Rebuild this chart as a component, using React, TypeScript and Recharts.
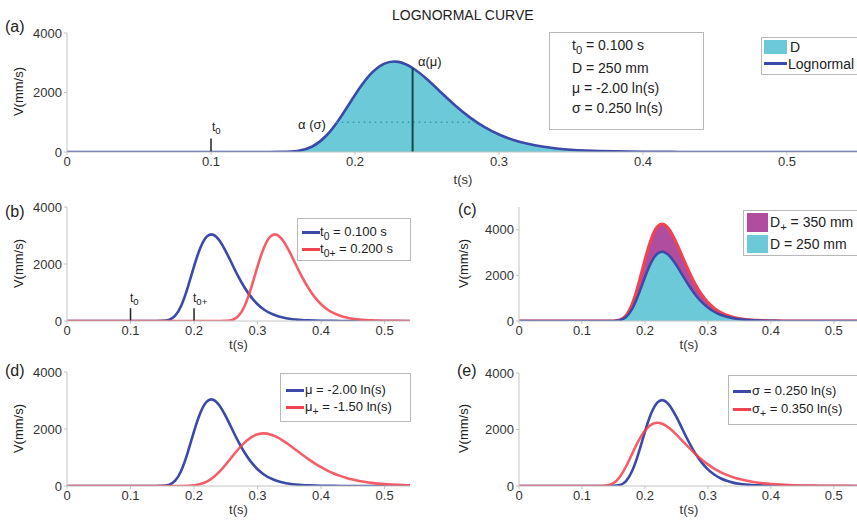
import React from "react";
import { ComposedChart, Line, Area, XAxis, YAxis, ReferenceLine } from "recharts";

// time axis, 10 ms steps
const T = [
  0, 0.01, 0.02, 0.03, 0.04, 0.05, 0.06, 0.07, 0.08, 0.09, 0.1, 0.11, 0.12, 0.13, 0.14, 0.15, 0.16, 0.17, 0.18,
  0.19, 0.2, 0.21, 0.22, 0.23, 0.24, 0.25, 0.26, 0.27, 0.28, 0.29, 0.3, 0.31, 0.32, 0.33, 0.34, 0.35, 0.36, 0.37,
  0.38, 0.39, 0.4, 0.41, 0.42, 0.43, 0.44, 0.45, 0.46, 0.47, 0.48, 0.49, 0.5, 0.51, 0.52, 0.53, 0.54, 0.55,
];

// t0 = 0.100 s, D = 250 mm, mu = -2.00, sigma = 0.250
const BASE = [
  0, 0, 0, 0, 0, 0, 0, 0, 0, 0, 0, 0, 0, 0, 0, 3, 33, 176, 546, 1171, 1918, 2572, 2961, 3029, 2823, 2444, 1993,
  1548, 1156, 836, 589, 405, 274, 183, 120, 78, 51, 32, 21, 13, 8, 5, 3, 2, 1, 0, 0, 0, 0, 0, 0, 0, 0, 0, 0, 0,
];
// t0+ = 0.200 s
const T0_PLUS = [
  0, 0, 0, 0, 0, 0, 0, 0, 0, 0, 0, 0, 0, 0, 0, 0, 0, 0, 0, 0, 0, 0, 0, 0, 0, 3, 33, 176, 546, 1171, 1918, 2572,
  2961, 3029, 2823, 2444, 1993, 1548, 1156, 836, 589, 405, 274, 183, 120, 78, 51, 32, 21, 13, 8, 5, 3, 2, 1, 0,
];
// D+ = 350 mm
const D_PLUS = [
  0, 0, 0, 0, 0, 0, 0, 0, 0, 0, 0, 0, 0, 0, 0, 4, 46, 246, 764, 1639, 2685, 3601, 4145, 4241, 3952, 3422, 2790,
  2167, 1618, 1170, 825, 567, 384, 256, 168, 109, 71, 45, 29, 18, 11, 7, 4, 3, 1, 0, 0, 0, 0, 0, 0, 0, 0, 0, 0, 0,
];
// mu+ = -1.50
const MU_PLUS = [
  0, 0, 0, 0, 0, 0, 0, 0, 0, 0, 0, 0, 0, 0, 0, 0, 0, 0, 1, 6, 23, 66, 153, 297, 501, 753, 1029, 1298, 1532, 1708,
  1813, 1845, 1810, 1722, 1593, 1439, 1273, 1105, 944, 794, 660, 542, 440, 355, 284, 225, 178, 139, 109, 84, 65,
  50, 39, 30, 23, 17,
];
// sigma+ = 0.350
const SIGMA_PLUS = [
  0, 0, 0, 0, 0, 0, 0, 0, 0, 0, 0, 0, 0, 1, 17, 100, 319, 690, 1153, 1605, 1961, 2174, 2239, 2178, 2026, 1819,
  1588, 1356, 1136, 938, 764, 617, 494, 393, 311, 245, 192, 151, 118, 92, 72, 56, 43, 34, 26, 20, 16, 12, 9, 7, 5,
  4, 3, 2, 2, 1,
];

const X_TICKS = [0, 0.1, 0.2, 0.3, 0.4, 0.5];
const Y_TICKS = [0, 2000, 4000];

// annotations of panel (a)
const T0 = 0.1;
const T0_P = 0.2;
const T0_MARK = 450;
const ALPHA_MU_T = 0.24;
const ALPHA_MU_V = 2823;
const ALPHA_SIGMA_V = 1000;
const ALPHA_SIGMA_SPAN = [0.187, 0.284];

const rows = T.map((t, i) => ({
  t,
  base: BASE[i],
  t0p: T0_PLUS[i],
  dp: D_PLUS[i],
  mup: MU_PLUS[i],
  sigp: SIGMA_PLUS[i],
}));

const BLUE = "#3b4aa8";
const RED = "#f2424f";
const CYAN = "#6ccad8";
const PURPLE = "#b04d9f";
const AXIS = "#c4c4c4";
const INK = "#333";
const FONT = "'Liberation Sans', Arial, sans-serif";
const CURVE = "natural";

type Rect = { x: number; y: number; w: number; h: number };

function chartBox(r: Rect, xMax: number, yMax: number, labelGap: number, children: React.ReactNode[]) {
  const tick = { fontSize: 13, fill: INK, fontFamily: FONT };
  return (
    <div style={{ position: "absolute", left: r.x - 60, top: r.y - 10 }}>
      <ComposedChart width={r.w + 70} height={r.h + 56} data={rows} margin={{ top: 10, right: 10, left: 0, bottom: 0 }}>
        <XAxis
          dataKey="t"
          type="number"
          domain={[0, xMax]}
          ticks={X_TICKS}
          allowDataOverflow
          height={46}
          tick={tick}
          tickSize={3}
          stroke={AXIS}
          interval={0}
          label={{
            value: "t(s)",
            position: "insideBottom",
            offset: 46 - labelGap,
            fontSize: 13,
            fill: INK,
            fontFamily: FONT,
          }}
        />
        <YAxis
          type="number"
          domain={[0, yMax]}
          ticks={Y_TICKS}
          allowDataOverflow
          width={60}
          tick={tick}
          tickSize={3}
          stroke={AXIS}
          interval={0}
        />
        {children}
      </ComposedChart>
    </div>
  );
}

function Txt({ x, y, size = 13, children, style }: any) {
  return (
    <div
      style={{
        position: "absolute",
        left: x,
        top: y,
        fontSize: size,
        lineHeight: 1,
        whiteSpace: "nowrap",
        color: "#222",
        fontFamily: FONT,
        ...style,
      }}
    >
      {children}
    </div>
  );
}

const Sub = ({ children }: any) => (
  <span style={{ fontSize: "0.8em", position: "relative", top: "0.35em" }}>{children}</span>
);

function YLabel({ x, y }: { x: number; y: number }) {
  return (
    <Txt x={x - 30} y={y - 7} size={13} style={{ width: 60, textAlign: "center", transform: "rotate(-90deg)" }}>
      V(mm/s)
    </Txt>
  );
}

function Box({ x, y, w, h }: Rect) {
  return (
    <div
      style={{
        position: "absolute",
        left: x,
        top: y,
        width: w,
        height: h,
        border: "1px solid #b8b8b8",
        background: "#fff",
        boxSizing: "border-box",
      }}
    />
  );
}

function LineKey({ x, y, color }: { x: number; y: number; color: string }) {
  return <div style={{ position: "absolute", left: x, top: y - 1.5, width: 18, height: 3, background: color }} />;
}

function Swatch({ x, y, w, h, color }: any) {
  return <div style={{ position: "absolute", left: x, top: y, width: w, height: h, background: color }} />;
}

const marker = (x: number) => (
  <ReferenceLine
    key={"m" + x}
    segment={[
      { x, y: 0 },
      { x, y: T0_MARK },
    ]}
    stroke="#222"
    strokeWidth={1.5}
  />
);

const line = (key: string, dataKey: string, color: string, opacity = 1) => (
  <Line
    key={key}
    type={CURVE}
    dataKey={dataKey}
    stroke={color}
    strokeOpacity={opacity}
    strokeWidth={2.6}
    dot={false}
    activeDot={false}
    isAnimationActive={false}
  />
);

export default function App() {
  const A: Rect = { x: 67, y: 33, w: 792, h: 119 };
  const B: Rect = { x: 67, y: 207, w: 343, h: 114 };
  const C: Rect = { x: 519, y: 207, w: 340, h: 114 };
  const D: Rect = { x: 67, y: 372, w: 343, h: 114 };
  const E: Rect = { x: 519, y: 373, w: 340, h: 113 };

  return (
    <div
      style={{
        position: "absolute",
        left: 0,
        top: 0,
        width: 857,
        height: 522,
        overflow: "hidden",
        background: "#fff",
        fontFamily: FONT,
      }}
    >
      {chartBox(A, 0.55, 4000, 32, [
        <Area
          key="a"
          type={CURVE}
          dataKey="base"
          fill={CYAN}
          fillOpacity={1}
          stroke={BLUE}
          strokeWidth={2.6}
          dot={false}
          activeDot={false}
          isAnimationActive={false}
        />,
        <ReferenceLine
          key="sig"
          segment={[
            { x: ALPHA_SIGMA_SPAN[0], y: ALPHA_SIGMA_V },
            { x: ALPHA_SIGMA_SPAN[1], y: ALPHA_SIGMA_V },
          ]}
          stroke="#2f9aa6"
          strokeWidth={1.5}
          strokeDasharray="1.5 4"
        />,
        <ReferenceLine
          key="mu"
          segment={[
            { x: ALPHA_MU_T, y: 0 },
            { x: ALPHA_MU_T, y: ALPHA_MU_V },
          ]}
          stroke="#0f4a45"
          strokeWidth={2}
        />,
        marker(T0),
      ])}

      {chartBox(B, 0.54, 4000, 28, [line("b1", "base", BLUE), line("b2", "t0p", RED, 0.85), marker(T0), marker(T0_P)])}

      {chartBox(C, 0.54, 5000, 28, [
        <Area key="c1" type={CURVE} dataKey="dp" fill={PURPLE} fillOpacity={1} stroke={RED} strokeWidth={3} dot={false} activeDot={false} isAnimationActive={false} />,
        <Area key="c2" type={CURVE} dataKey="base" fill={CYAN} fillOpacity={1} stroke={BLUE} strokeWidth={2.5} dot={false} activeDot={false} isAnimationActive={false} />,
      ])}

      {chartBox(D, 0.54, 4000, 28, [line("d1", "base", BLUE), line("d2", "mup", RED, 0.85)])}

      {chartBox(E, 0.54, 4000, 28, [line("e1", "base", BLUE), line("e2", "sigp", RED, 0.85)])}

      {/* title and panel letters */}
      <Txt x={392} y={8} size={14}>LOGNORMAL CURVE</Txt>
      <Txt x={5} y={19} size={16}>(a)</Txt>
      <Txt x={5} y={204} size={16}>(b)</Txt>
      <Txt x={458} y={202} size={16}>(c)</Txt>
      <Txt x={5} y={363} size={16}>(d)</Txt>
      <Txt x={457} y={363} size={16}>(e)</Txt>

      <YLabel x={18} y={92} />
      <YLabel x={18} y={264} />
      <YLabel x={463} y={264} />
      <YLabel x={18} y={429} />
      <YLabel x={463} y={429} />

      {/* panel (a) annotations */}
      <Txt x={212} y={121} size={12}>t<Sub>0</Sub></Txt>
      <Txt x={298} y={118} size={13}>α (σ)</Txt>
      <Txt x={418} y={55} size={13}>α(μ)</Txt>

      <Box x={549} y={32} w={155} h={98} />
      <Txt x={572} y={38} size={14}>t<Sub>0</Sub> = 0.100 s</Txt>
      <Txt x={572} y={61} size={14}>D = 250 mm</Txt>
      <Txt x={572} y={81} size={14}>μ = -2.00 ln(s)</Txt>
      <Txt x={572} y={101} size={14}>σ = 0.250 ln(s)</Txt>

      <Box x={761} y={37} w={110} h={38} />
      <Swatch x={764} y={40} w={23} h={14} color={CYAN} />
      <Txt x={790} y={40} size={14}>D</Txt>
      <div style={{ position: "absolute", left: 764, top: 62, width: 23, height: 3, background: BLUE }} />
      <Txt x={788} y={57} size={14}>Lognormal</Txt>

      {/* panel (b) */}
      <Txt x={130} y={292} size={12}>t<Sub>0</Sub></Txt>
      <Txt x={193} y={292} size={12}>t<Sub>0+</Sub></Txt>
      <Box x={297} y={218} w={114} h={43} />
      <LineKey x={302} y={232} color={BLUE} />
      <Txt x={320} y={225} size={13}>t<Sub>0</Sub> = 0.100 s</Txt>
      <LineKey x={302} y={249} color={RED} />
      <Txt x={320} y={242} size={13}>t<Sub>0+</Sub> = 0.200 s</Txt>

      {/* panel (c) */}
      <Box x={743} y={210} w={130} h={46} />
      <Swatch x={747} y={213} w={21} h={19} color={PURPLE} />
      <Txt x={770} y={215} size={14}>D<Sub>+</Sub> = 350 mm</Txt>
      <Swatch x={747} y={235} w={21} h={18} color={CYAN} />
      <Txt x={770} y={237} size={14}>D = 250 mm</Txt>

      {/* panel (d) */}
      <Box x={280} y={373} w={131} h={49} />
      <LineKey x={286} y={390} color={BLUE} />
      <Txt x={305} y={383} size={13}>μ = -2.00 ln(s)</Txt>
      <LineKey x={286} y={407} color={RED} />
      <Txt x={305} y={400} size={13}>μ<Sub>+</Sub> = -1.50 ln(s)</Txt>

      {/* panel (e) */}
      <Box x={728} y={375} w={140} h={50} />
      <LineKey x={733} y={391} color={BLUE} />
      <Txt x={752} y={384} size={13}>σ = 0.250 ln(s)</Txt>
      <LineKey x={733} y={409} color={RED} />
      <Txt x={752} y={402} size={13}>σ<Sub>+</Sub> = 0.350 ln(s)</Txt>
    </div>
  );
}
